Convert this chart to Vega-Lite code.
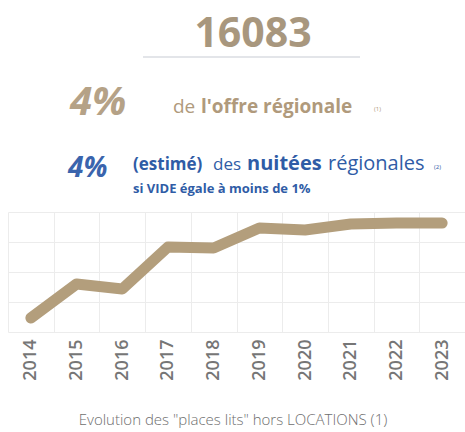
{
  "$schema": "https://vega.github.io/schema/vega-lite/v6.json",
  "autosize": {"type": "none"},
  "width": 457,
  "height": 120,
  "padding": {"left": 8, "top": 212, "right": 0, "bottom": 100},
  "background": "#ffffff",
  "config": {"view": {"stroke": null}, "font": "Open Sans"},
  "layer": [
    {
      "data": {"values": [
        {"annee": "2014", "lits": 12525},
        {"annee": "2015", "lits": 13800},
        {"annee": "2016", "lits": 13612},
        {"annee": "2017", "lits": 15187},
        {"annee": "2018", "lits": 15150},
        {"annee": "2019", "lits": 15900},
        {"annee": "2020", "lits": 15825},
        {"annee": "2021", "lits": 16050},
        {"annee": "2022", "lits": 16083},
        {"annee": "2023", "lits": 16083}
      ]},
      "mark": {"type": "line", "color": "#b39e7c", "strokeWidth": 11, "strokeCap": "round", "strokeJoin": "round"},
      "encoding": {
        "x": {
          "field": "annee", "type": "ordinal",
          "scale": {"type": "band", "paddingInner": 0, "paddingOuter": 0},
          "axis": {
            "title": null, "labelAngle": -90, "labelFontSize": 18, "labelFontWeight": 600,
            "labelColor": "#767676", "labelPadding": 7, "domain": false, "ticks": false,
            "grid": true, "tickBand": "extent", "gridColor": "#ececec", "gridWidth": 1
          }
        },
        "y": {
          "field": "lits", "type": "quantitative",
          "scale": {"domain": [12000, 16500], "zero": false, "nice": false},
          "axis": {
            "title": null, "labels": false, "ticks": false, "domain": false,
            "values": [12000, 13125, 14250, 15375, 16500],
            "gridColor": "#ececec", "gridWidth": 1
          }
        }
      }
    },
    {
      "data": {"values": [{}]},
      "mark": {"type": "text", "text": "16083", "align": "center", "baseline": "alphabetic", "fontSize": 41, "fontWeight": "bold", "color": "#a8977e"},
      "encoding": {"x": {"value": 245}, "y": {"value": -165}}
    },
    {
      "data": {"values": [{}]},
      "mark": {"type": "rule", "color": "#dadde2", "strokeWidth": 1.5},
      "encoding": {"x": {"value": 135}, "x2": {"value": 352}, "y": {"value": -155}}
    },
    {
      "data": {"values": [{}]},
      "mark": {"type": "text", "text": "4%", "align": "left", "baseline": "alphabetic", "fontSize": 40, "fontWeight": "bold", "fontStyle": "italic", "color": "#b5a287"},
      "encoding": {"x": {"value": 62}, "y": {"value": -97}}
    },
    {
      "data": {"values": [{}]},
      "mark": {"type": "text", "text": "de", "align": "left", "baseline": "alphabetic", "fontSize": 19, "fontWeight": "normal", "color": "#b09a7c"},
      "encoding": {"x": {"value": 165}, "y": {"value": -99}}
    },
    {
      "data": {"values": [{}]},
      "mark": {"type": "text", "text": "l'offre régionale", "align": "left", "baseline": "alphabetic", "fontSize": 19, "fontWeight": "bold", "color": "#b09a7c"},
      "encoding": {"x": {"value": 193}, "y": {"value": -99}}
    },
    {
      "data": {"values": [{}]},
      "mark": {"type": "text", "text": "(1)", "align": "left", "baseline": "alphabetic", "fontSize": 6, "color": "#b09a7c"},
      "encoding": {"x": {"value": 366}, "y": {"value": -101}}
    },
    {
      "data": {"values": [{}]},
      "mark": {"type": "text", "text": "4%", "align": "left", "baseline": "alphabetic", "fontSize": 28, "fontWeight": "bold", "fontStyle": "italic", "color": "#3a64ad"},
      "encoding": {"x": {"value": 60}, "y": {"value": -35}}
    },
    {
      "data": {"values": [{}]},
      "mark": {"type": "text", "text": "(estimé)", "align": "left", "baseline": "alphabetic", "fontSize": 17, "fontWeight": "bold", "color": "#2f5ca6"},
      "encoding": {"x": {"value": 125}, "y": {"value": -42}}
    },
    {
      "data": {"values": [{}]},
      "mark": {"type": "text", "text": "des", "align": "left", "baseline": "alphabetic", "fontSize": 17, "fontWeight": "normal", "color": "#2f5ca6"},
      "encoding": {"x": {"value": 205}, "y": {"value": -42}}
    },
    {
      "data": {"values": [{}]},
      "mark": {"type": "text", "text": "nuitées", "align": "left", "baseline": "alphabetic", "fontSize": 20, "fontWeight": "bold", "color": "#2f5ca6"},
      "encoding": {"x": {"value": 239}, "y": {"value": -42}}
    },
    {
      "data": {"values": [{}]},
      "mark": {"type": "text", "text": "régionales", "align": "left", "baseline": "alphabetic", "fontSize": 20, "fontWeight": "normal", "color": "#2f5ca6"},
      "encoding": {"x": {"value": 320}, "y": {"value": -42}}
    },
    {
      "data": {"values": [{}]},
      "mark": {"type": "text", "text": "(2)", "align": "left", "baseline": "alphabetic", "fontSize": 6, "color": "#2f5ca6"},
      "encoding": {"x": {"value": 426}, "y": {"value": -43}}
    },
    {
      "data": {"values": [{}]},
      "mark": {"type": "text", "text": "si VIDE égale à moins de 1%", "align": "left", "baseline": "alphabetic", "fontSize": 13, "fontWeight": "bold", "color": "#2f5ca6"},
      "encoding": {"x": {"value": 125}, "y": {"value": -19}}
    },
    {
      "data": {"values": [{}]},
      "mark": {"type": "text", "text": "Evolution des \"places lits\" hors LOCATIONS (1)", "align": "center", "baseline": "alphabetic", "fontSize": 15, "fontWeight": 300, "color": "#6e6e6e"},
      "encoding": {"x": {"value": 225}, "y": {"value": 213}}
    }
  ]
}
